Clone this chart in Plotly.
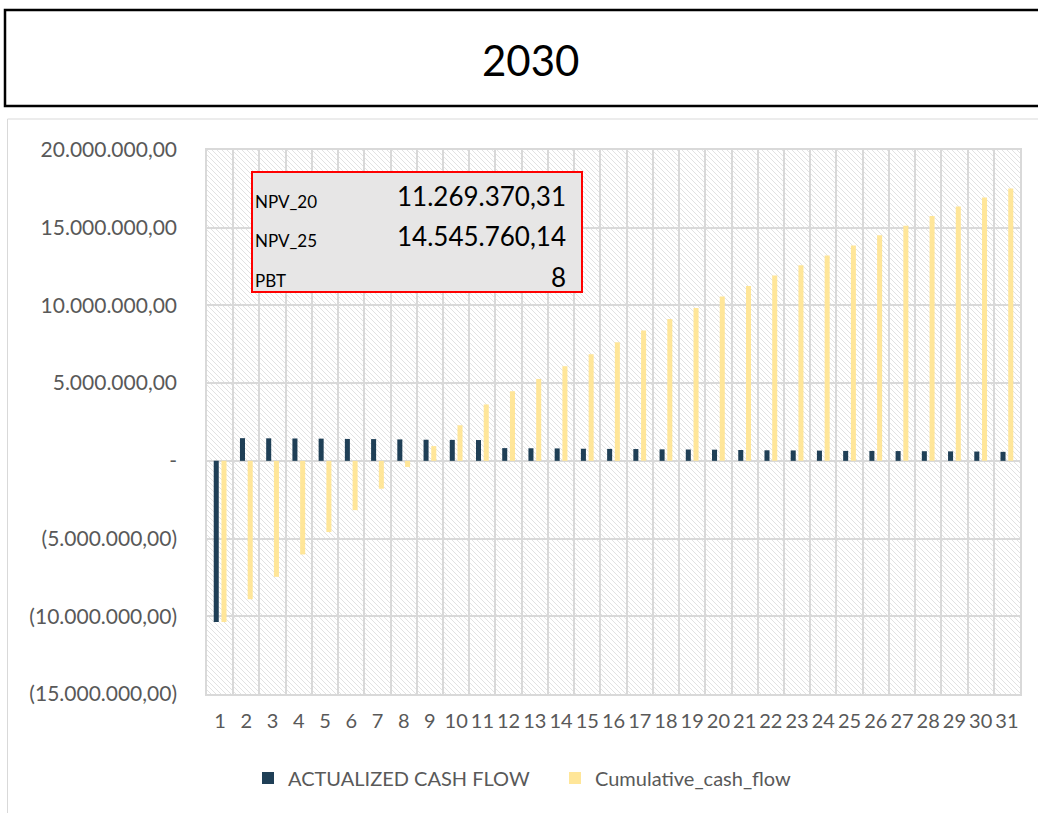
import base64
import plotly.graph_objects as go

# ---------------- data ----------------
periods = list(range(1, 32))

actualized_cash_flow = [
    -10370000, 1460000, 1450000, 1440000, 1430000, 1410000, 1400000, 1380000,
    1360000, 1350000, 1340000, 820000, 810000, 800000, 780000, 770000, 760000,
    740000, 730000, 720000, 700000, 680000, 670000, 660000, 640000, 640000,
    630000, 620000, 610000, 600000, 580000,
]

cumulative_cash_flow = [
    -10370000, -8910000, -7460000, -6020000, -4580000, -3170000, -1790000,
    -390000, 950000, 2290000, 3630000, 4480000, 5270000, 6090000, 6860000,
    7630000, 8380000, 9130000, 9840000, 10570000, 11250000, 11920000,
    12580000, 13220000, 13860000, 14510000, 15130000, 15750000, 16360000,
    16940000, 17520000,
]

y_tick_values = [-15000000, -10000000, -5000000, 0, 5000000, 10000000, 15000000, 20000000]
y_tick_labels = ["(15.000.000,00)", "(10.000.000,00)", "(5.000.000,00)", "-",
                 "5.000.000,00", "10.000.000,00", "15.000.000,00", "20.000.000,00"]

series_names = ["ACTUALIZED CASH FLOW", "Cumulative_cash_flow"]
title_text = "2030"
kpi_labels = ["NPV_20", "NPV_25", "PBT"]
kpi_values = ["11.269.370,31", "14.545.760,14", "8"]

# ---------------- layout helpers ----------------
W, H = 1038, 813
ML, MR, MT, MB = 207, 18, 150, 119
PW, PH = W - ML - MR, H - MT - MB


def px_x(x):
    return (x - ML) / PW


def px_y(y):
    return (H - MB - y) / PH


FONT = "Lato, 'Open Sans', sans-serif"
GRID = "#d9d9d9"
TXT = "#595959"

fig = go.Figure()
fig.add_trace(go.Bar(x=periods, y=actualized_cash_flow, name=series_names[0],
                     marker=dict(color="#1F3F56", line=dict(width=0))))
fig.add_trace(go.Bar(x=periods, y=cumulative_cash_flow, name=series_names[1],
                     marker=dict(color="#FFE699", line=dict(width=0))))

# hatch background
svg = (
    f'<svg xmlns="http://www.w3.org/2000/svg" width="{PW}" height="{PH}" '
    f'viewBox="0 0 {PW} {PH}" preserveAspectRatio="none">'
    '<defs><pattern id="h" width="5" height="5" patternUnits="userSpaceOnUse">'
    '<path d="M-1,-1 L6,6 M-1,4 L1,6 M4,-1 L6,1" stroke="#e2e2e2" stroke-width="1"/>'
    '</pattern></defs><rect width="100%" height="100%" fill="url(#h)"/></svg>'
)
src = "data:image/svg+xml;base64," + base64.b64encode(svg.encode()).decode()

shapes = [
    # outer chart area border
    dict(type="rect", xref="paper", yref="paper",
         x0=px_x(7.5), x1=px_x(1060), y0=px_y(119), y1=px_y(830),
         line=dict(color=GRID, width=1), fillcolor="rgba(0,0,0,0)", layer="below"),
    # title box
    dict(type="rect", xref="paper", yref="paper",
         x0=px_x(5), x1=px_x(1060), y0=px_y(106), y1=px_y(10),
         line=dict(color="black", width=2.5), fillcolor="white"),
    # KPI box
    dict(type="rect", xref="paper", yref="paper",
         x0=px_x(252), x1=px_x(582), y0=px_y(292), y1=px_y(172),
         line=dict(color="#FF0000", width=2), fillcolor="#E7E6E6"),
]

annotations = [
    dict(text=title_text, xref="paper", yref="paper", x=px_x(530), y=px_y(60),
         xanchor="center", yanchor="middle", showarrow=False,
         font=dict(family=FONT, size=42, color="black")),
]
label_rows = [201, 241, 280]
value_rows = [196, 236, 277]
for lab, val, ly, vy in zip(kpi_labels, kpi_values, label_rows, value_rows):
    annotations.append(dict(text=lab, xref="paper", yref="paper", x=px_x(253), y=px_y(ly),
                            xanchor="left", yanchor="middle", showarrow=False,
                            font=dict(family=FONT, size=17, color="black")))
    annotations.append(dict(text=val, xref="paper", yref="paper", x=px_x(568), y=px_y(vy),
                            xanchor="right", yanchor="middle", showarrow=False,
                            font=dict(family=FONT, size=26, color="black")))

fig.update_layout(
    width=W, height=H,
    margin=dict(l=ML, r=MR, t=MT, b=MB),
    paper_bgcolor="white", plot_bgcolor="white",
    barmode="group", bargap=0.41, bargroupgap=0.35,
    font=dict(family=FONT, color=TXT),
    shapes=shapes, annotations=annotations,
    images=[dict(source=src, xref="paper", yref="paper", x=0, y=1, sizex=1, sizey=1,
                 xanchor="left", yanchor="top", sizing="stretch", layer="below")],
    legend=dict(orientation="h", x=px_x(248), xanchor="left", y=px_y(778),
                yanchor="middle", font=dict(family=FONT, size=20, color=TXT),
                bgcolor="rgba(0,0,0,0)", entrywidth=262, entrywidthmode="pixels"),
    showlegend=True,
)

fig.update_xaxes(
    type="linear", range=[0.5, 31.5], tickmode="array", tickvals=periods,
    ticktext=[str(p) for p in periods], showgrid=False, zeroline=False,
    tickangle=0,
    tickfont=dict(family=FONT, size=20, color=TXT), ticks="", ticklabelstandoff=8,
    minor=dict(tick0=0.5, dtick=1, showgrid=True, gridcolor=GRID, gridwidth=1.5, ticks=""),
    showline=True, mirror=True, linecolor=GRID, linewidth=1.5,
)
fig.update_yaxes(
    range=[-15000000, 20000000], tickmode="array", tickvals=y_tick_values,
    ticktext=y_tick_labels, showgrid=True, gridcolor=GRID, gridwidth=1.5,
    zeroline=True, zerolinecolor=GRID, zerolinewidth=1.5,
    tickfont=dict(family=FONT, size=21, color=TXT), ticks="", ticklabelstandoff=24,
    showline=True, mirror=True, linecolor=GRID, linewidth=1.5,
)

fig.write_html("out.html", config={"displayModeBar": False},
               post_script="document.body.style.margin='0';")
